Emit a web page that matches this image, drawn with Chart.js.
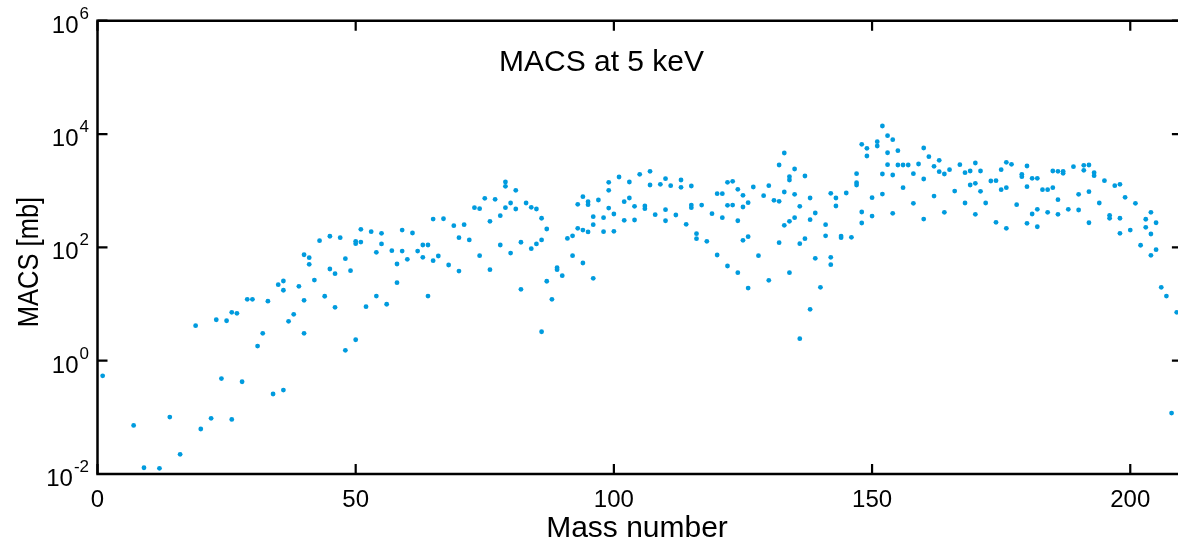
<!DOCTYPE html>
<html>
<head>
<meta charset="utf-8">
<script src="https://cdn.jsdelivr.net/npm/chart.js@4.4.1/dist/chart.umd.min.js"></script>
<style>
  html, body { margin: 0; padding: 0; background: #ffffff; overflow: hidden; }
  #wrap { position: absolute; left: 0; top: 0; width: 1186px; height: 541px; }
</style>
</head>
<body>
<div id="wrap"><canvas id="c" width="1186" height="541"></canvas></div>
<script>
// ---- data ----
const massNumber = [
  1,7,9,
  12,14,16,19,
  20,22,23,24,25,26,26,27,28,29,
  30,31,32,33,34,35,36,36,36,37,38,39,
  40,40,40,41,41,42,43,44,45,45,46,46,47,48,48,49,
  50,50,50,51,51,52,53,54,54,55,55,56,57,58,58,59,59,
  60,61,62,63,63,64,64,65,65,66,67,68,69,
  70,70,71,72,73,74,74,75,76,76,77,78,78,79,79,79,
  80,80,81,81,82,82,83,84,84,85,85,86,86,86,87,87,88,89,89,
  90,91,92,92,93,93,94,94,94,95,95,95,96,96,96,97,98,98,99,99,99,
  100,100,101,102,102,103,103,104,104,105,106,106,107,107,108,109,
  110,110,110,111,112,113,113,114,115,115,115,116,116,117,118,119,
  120,120,121,121,122,122,122,123,123,124,124,124,125,125,125,126,126,126,127,128,129,
  130,130,131,132,132,132,133,133,133,134,134,134,134,135,135,135,136,136,136,137,137,138,138,138,139,139,
  140,141,141,142,142,142,143,143,144,144,145,146,147,147,147,148,148,148,149,149,
  150,150,151,151,152,152,152,153,153,153,154,154,154,155,155,156,156,157,158,158,159,
  160,160,160,161,162,162,163,163,164,164,165,166,167,168,168,169,169,
  170,170,170,171,171,172,173,174,174,175,175,176,176,176,177,178,179,179,
  180,180,180,181,181,182,182,182,183,184,184,185,185,186,186,186,187,187,188,189,
  190,190,191,191,192,192,192,193,193,194,195,196,196,197,198,198,198,199,
  200,201,202,203,203,204,204,204,205,205,206,207,208,209
];
const macsMb = [
  0.54,0.072,0.0129,
  0.0126,0.101,0.0222,4.14,
  0.0622,0.096,5.28,0.484,5.07,0.092,7.14,6.85,0.425,12.1,
  12.1,1.81,3.04,11.2,0.258,21.9,0.303,25.5,17.5,4.95,6.58,20.5,
  3.04,74.1,11.6,65.6,50.2,26.5,131,13.7,157,41.5,34.3,8.75,148,1.52,63.1,38.7,
  2.34,128,116,208,124,8.96,189,81.7,13.8,177,115,9.9,87.3,50.8,23.8,202,86.1,
  61.5,179,86.1,110,66.7,110,13.8,316,58.1,70.3,320,48.8,241,
  148,38.2,251,135,501,481,71.2,734,288,40.3,705,362,110,1422,1195,501,
  606,79.4,1016,475,123,18.2,606,509,94.6,475,115,326,135,3.24,211,25.2,12.1,43.7,40.3,
  31.6,144,160,71.2,575,217,783,202,52.9,640,566,187,348,251,28.4,685,334,189,1406,1016,494,
  388,192,1743,640,300,1422,743,530,304,1945,537,481,2198,1259,377,1297,
  1626,462,295,1224,372,1545,1148,255,1209,558,501,174,142,558,128,393,
  885,73.3,885,334,1406,552,46.9,1465,558,1057,295,35.7,829,515,133,614,154,19.1,1161,71.2,815,
  1224,26.2,676,2838,650,121,4624,948,245,1766,1545,288,35.7,2415,863,334,530,116,2.44,1816,142,743,308,8.05,404,64.1,
  19.7,251,160,899,66.7,49.4,743,537,158,148,910,150,1995,1383,1259,6590,421,269,5598,4093,
  752,357,7314,6147,13860,1969,873,9340,4677,2876,7943,1891,399,5076,2838,2838,1130,2838,1995,598,2958,
  5662,1607,316,3981,2692,805,3436,2163,1969,415,2344,986,2876,2075,606,2224,1259,
  3081,1349,383,2224,975,606,1483,1500,277,2344,1040,3170,1130,217,2924,566,1945,1766,
  2729,1175,265,1656,388,1656,469,231,1040,1040,415,2224,1130,2198,693,383,2198,2028,469,2649,
  863,456,2805,2291,2838,959,272,2075,1837,606,1500,367,326,1224,1297,326,177,764,
  202,598,109,313,226,415,172,72.4,272,90.8,19.7,13.8,0.119,7.14
];
const xTickValues = [0, 50, 100, 150, 200];
const yTickExponents = [-2, 0, 2, 4, 6];
const titleText = 'MACS at 5 keV';
const xTitle = 'Mass number';
const yTitle = 'MACS [mb]';

if (massNumber.length !== macsMb.length) console.error('length mismatch', massNumber.length, macsMb.length);

const FONT = "'Liberation Sans', Arial, Helvetica, sans-serif";
const points = massNumber.map((a, i) => ({ x: a, y: macsMb[i] }));

const framePlugin = {
  id: 'gnuFrame',
  afterDraw(chart) {
    const ctx = chart.ctx;
    const xs = chart.scales.x, ys = chart.scales.y;
    const a = chart.chartArea;
    ctx.save();
    ctx.strokeStyle = '#000';
    ctx.lineWidth = 2.5;
    ctx.beginPath();
    ctx.rect(a.left, a.top, a.right - a.left, a.bottom - a.top);
    ctx.stroke();
    ctx.lineWidth = 2.2;
    const tl = 10;
    ctx.beginPath();
    xTickValues.forEach(v => {
      const px = xs.getPixelForValue(v);
      ctx.moveTo(px, a.bottom); ctx.lineTo(px, a.bottom - tl);
      ctx.moveTo(px, a.top); ctx.lineTo(px, a.top + tl);
    });
    yTickExponents.forEach(e => {
      const py = ys.getPixelForValue(Math.pow(10, e));
      ctx.moveTo(a.left, py); ctx.lineTo(a.left + tl, py);
      ctx.moveTo(a.right, py); ctx.lineTo(a.right - tl, py);
    });
    ctx.stroke();

    ctx.fillStyle = '#000';
    // x tick labels
    ctx.font = '24px ' + FONT;
    ctx.textAlign = 'center';
    ctx.textBaseline = 'alphabetic';
    xTickValues.forEach(v => {
      ctx.fillText(String(v), xs.getPixelForValue(v), a.bottom + 33);
    });
    // y tick labels 10^e
    const rightX = 89;
    yTickExponents.forEach(e => {
      const py = ys.getPixelForValue(Math.pow(10, e));
      ctx.font = '17px ' + FONT;
      const expStr = e < 0 ? '-' + Math.abs(e) : String(e);
      const ew = ctx.measureText(expStr).width;
      ctx.textAlign = 'left';
      ctx.fillText(expStr, rightX - ew, py - 2);
      ctx.font = '24px ' + FONT;
      ctx.textAlign = 'right';
      ctx.fillText('10', rightX - ew - 1, py + 12);
    });
    // titles
    ctx.font = '30px ' + FONT;
    ctx.textAlign = 'center';
    ctx.fillText(titleText, 601.5, 71);
    ctx.fillText(xTitle, 637, 537);
    ctx.save();
    ctx.translate(38, 262);
    ctx.rotate(-Math.PI / 2);
    ctx.scale(0.85, 1);
    ctx.fillText(yTitle, 0, 0);
    ctx.restore();
    ctx.restore();
  }
};

new Chart(document.getElementById('c'), {
  type: 'scatter',
  data: {
    datasets: [{
      label: yTitle,
      data: points,
      backgroundColor: 'rgb(0,155,222)',
      borderWidth: 0,
      pointRadius: 2.4,
      pointHoverRadius: 2.4
    }]
  },
  options: {
    responsive: false,
    animation: false,
    devicePixelRatio: 1,
    layout: { padding: { left: 97.5, right: 4.1, top: 20.7, bottom: 67 } },
    plugins: { legend: { display: false }, tooltip: { enabled: false } },
    scales: {
      x: { type: 'linear', min: 0, max: 210, display: false },
      y: { type: 'logarithmic', min: 0.01, max: 1e6, display: false }
    }
  },
  plugins: [framePlugin]
});
</script>
</body>
</html>
